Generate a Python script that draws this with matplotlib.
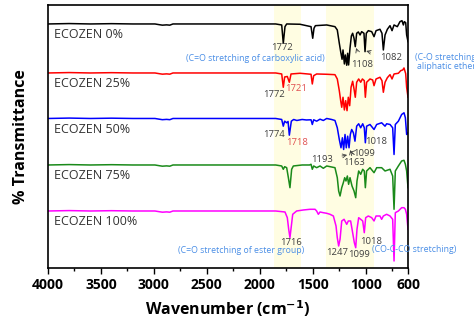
import matplotlib.pyplot as plt
from matplotlib.ticker import MultipleLocator

plt.rcParams['font.family'] = ['Open Sans', 'DejaVu Sans']

# FT-IR spectra (wavenumber, %T relative to baseline 100)
flat_w = [4000, 3800, 3600, 3400, 3200, 3050, 2990, 2950, 2920, 2880, 2850, 2820, 2600, 2300, 2050, 1850]
flat_t = [100, 100.4, 100, 100.3, 100, 100, 100, 99.3, 98.8, 99.1, 98.8, 100, 100, 100, 100, 100]

w_0 = flat_w + [1793, 1778, 1762, 1746, 1620, 1516, 1500, 1488, 1475, 1368, 1290, 1268, 1249, 1236, 1223,
                1214, 1201, 1192, 1179, 1170, 1161, 1148, 1135, 1123, 1110, 1098, 1085, 1069, 1053, 1038,
                1016, 1006, 994, 975, 943, 921, 902, 865, 846, 833, 817, 795, 770, 751, 732, 701, 676,
                657, 644, 635, 622, 613, 600]
t_0 = flat_t + [99, 80.7, 97.3, 100, 99.7, 97.3, 85.7, 95.7, 98.3, 99, 97.3, 94, 80.7, 72.3, 64.7,
                74, 60, 69, 58.7, 70.7, 59, 75.7, 88, 90.7, 85.7, 77.3, 90.7, 92, 89, 92.3,
                90.7, 72.3, 90.7, 93.3, 92.3, 87.3, 93.3, 94.7, 90.7, 74, 89, 94.7, 98.3, 93.3, 99, 97.3, 102.3,
                103.3, 99, 102.3, 101.3, 89, 82.3]

w_25 = flat_w + [1793, 1778, 1765, 1740, 1721, 1705, 1620, 1516, 1504, 1491, 1463, 1368, 1290, 1268, 1249,
                 1236, 1226, 1214, 1201, 1189, 1176, 1164, 1151, 1138, 1123, 1110, 1098, 1085, 1066, 1047,
                 1031, 1013, 1003, 991, 959, 934, 921, 902, 865, 846, 833, 817, 795, 770, 751, 732, 691,
                 669, 650, 638, 622, 613, 600]
t_25 = flat_t + [99, 85.7, 96, 96.5, 90.7, 99, 99.7, 98.7, 89, 97.3, 99, 98.7, 98.3, 94, 82.3,
                 72.3, 65.7, 75.7, 63, 72.3, 62.3, 75.7, 67.3, 85.7, 91.7, 84, 75.7, 90.7, 94, 90.7,
                 94, 92.3, 75.7, 90.7, 94, 93, 87.3, 94, 95.7, 92.3, 80.7, 90.7, 95.3, 98.3, 94, 99, 99.7,
                 102.3, 103, 105, 99.3, 85.7, 75.7]

w_50 = flat_w + [1793, 1778, 1765, 1746, 1733, 1721, 1702, 1680, 1650, 1600, 1560, 1516, 1504, 1491, 1463,
                 1431, 1400, 1368, 1322, 1290, 1268, 1249, 1233, 1220, 1208, 1195, 1183, 1170, 1157, 1145,
                 1132, 1116, 1101, 1085, 1066, 1047, 1028, 1013, 1003, 991, 959, 921, 896, 849, 817, 802,
                 770, 745, 732, 720, 691, 660, 638, 625, 613, 600]
t_50 = flat_t + [99, 92.3, 97.3, 95.7, 97, 83.3, 97.3, 99, 98, 99, 98.5, 98.7, 94, 98.7, 97.3,
                 99.3, 98, 100, 99, 98, 90.7, 79, 70.7, 80.7, 69, 84, 70.7, 82.3, 70.7, 84,
                 89, 85.7, 77.3, 92.3, 94.7, 90.7, 94.7, 90.7, 75.7, 92.3, 94, 89, 94, 95.7, 92.3, 94.7,
                 94, 90.7, 64, 94, 97.3, 104, 105.7, 100.7, 84, 85.7]

w_75 = flat_w + [1793, 1778, 1765, 1746, 1730, 1715, 1699, 1683, 1600, 1530, 1516, 1504, 1491, 1463, 1431,
                 1400, 1368, 1322, 1290, 1268, 1255, 1242, 1226, 1211, 1198, 1186, 1173, 1161, 1148, 1129,
                 1110, 1094, 1082, 1066, 1047, 1028, 1013, 1003, 991, 959, 921, 896, 849, 817, 770, 745,
                 732, 720, 691, 660, 638, 625, 613, 600]
t_75 = flat_t + [99, 95.7, 98.3, 97.3, 87.3, 77.3, 95.7, 99, 100, 100, 100.7, 95.7, 99, 97.3, 99,
                 96.7, 99, 98, 97.3, 87.3, 74, 69, 77.3, 82.3, 87.3, 84, 89, 80.7, 87.3, 79,
                 74, 67.3, 84, 94, 90.7, 95.7, 94, 77.3, 94, 97.3, 92.3, 97.3, 97.3, 94, 95.7, 89,
                 55.7, 94, 99, 104, 104.7, 100.7, 94, 77.3]

w_100 = flat_w + [1762, 1740, 1727, 1715, 1702, 1689, 1652, 1589, 1526, 1478, 1463, 1447, 1431, 1400, 1368,
                  1337, 1305, 1280, 1268, 1255, 1242, 1226, 1204, 1179, 1164, 1142, 1123, 1107, 1094, 1082,
                  1066, 1047, 1028, 1013, 1000, 975, 943, 921, 902, 865, 849, 833, 802, 770, 745, 732,
                  720, 691, 660, 638, 625, 613, 600]
t_100 = flat_t + [99, 93.3, 81.7, 73.3, 85, 96.7, 100, 101, 101.7, 101.7, 100, 96.7, 99, 98.3, 97.7,
                  96.7, 95, 85, 73.3, 65, 71.7, 90, 91.7, 86.7, 90, 90, 78.3, 68.3, 63.3, 81.7,
                  93.3, 91.7, 90, 78.3, 93.3, 95, 93.3, 90, 95, 95, 91.7, 95, 96.7, 95, 91.7, 50,
                  98.3, 100, 103.3, 103.3, 101.7, 96.7, 81.7]

samples = ['ECOZEN 0%', 'ECOZEN 25%', 'ECOZEN 50%', 'ECOZEN 75%', 'ECOZEN 100%']
waves = [w_0, w_25, w_50, w_75, w_100]
trans = [t_0, t_25, t_50, t_75, t_100]
colors = ['black', '#ff0000', '#0000ff', '#1a8a1a', '#ff00ff']
offsets = [144, 95, 49.5, 3, -43]

fig = plt.figure(figsize=(4.74, 3.2), dpi=100)
ax = fig.add_axes([0.1013, 0.1625, 0.7595, 0.822])

# highlighted regions
ax.axvspan(1865, 1610, color='#fffde2', lw=0, zorder=0)
ax.axvspan(1375, 920, color='#fffde2', lw=0, zorder=0)

for w, t, c, off, name in zip(waves, trans, colors, offsets, samples):
    ax.plot(w, [v + off for v in t], color=c, lw=1.1)
    ax.text(3943, off + 100 - 11, name, fontsize=9, color='#333333', va='center', ha='left')

ax.set_xlim(4000, 600)
ax.set_ylim(0, 263)
ax.set_yticks([])
ax.set_xticks([4000, 3500, 3000, 2500, 2000, 1500, 1000, 600])
ax.xaxis.set_minor_locator(MultipleLocator(250))
ax.tick_params(axis='x', which='major', length=4, width=1, labelsize=10, pad=3)
ax.tick_params(axis='x', which='minor', length=2.5, width=1)
for lab in ax.get_xticklabels():
    lab.set_fontweight('bold')
for s in ax.spines.values():
    s.set_linewidth(1.2)

ax.set_xlabel('Wavenumber (cm$^{\\mathbf{-1}}$)', fontsize=11.5, fontweight='bold', labelpad=5)
ax.set_ylabel('% Transmittance', fontsize=11.5, fontweight='bold', labelpad=14)

blue = '#4a8ee6'
grey = '#404040'
fs = 6.3

# group assignments
ax.text(2045, 209.5, '(C=O stretching of carboxylic acid)', fontsize=fs, color=blue, ha='center', va='center')
ax.text(2177, 17.3, '(C=O stretching of ester group)', fontsize=fs, color=blue, ha='center', va='center')
ax.text(543, 18, '(CO-C-CO stretching)', fontsize=fs, color=blue, ha='center', va='center')
ax.text(225, 205.5, '(C-O stretching_\naliphatic ether)', fontsize=fs, color=blue, ha='center',
        va='center', linespacing=1.0)

# peak labels
peaks = [(1790, 220, '1772', grey), (1870, 173, '1772', grey), (1653, 179, '1721', '#e05050'),
         (1866, 133, '1774', grey), (1644, 125, '1718', '#e05050'), (902, 126, '1018', grey),
         (1705, 25, '1716', grey), (1266, 15, '1247', grey), (1067, 13.5, '1099', grey),
         (945, 26.3, '1018', grey)]
for x, y, s, c in peaks:
    ax.text(x, y, s, fontsize=fs + 0.5, color=c, ha='center', va='center')

arrows = [('1108', (1035, 203), (1090, 220)), ('1082', (761, 210), (995, 217)),
          ('1193', (1417, 108), (1175, 113)), ('1099', (1016, 114), (1148, 116)),
          ('1163', (1115, 105), (1145, 118))]
for s, xy_text, xy in arrows:
    ax.annotate(s, xy=xy, xytext=xy_text, fontsize=fs + 0.5, color=grey, ha='center', va='center',
                arrowprops=dict(arrowstyle='->', color=grey, lw=0.6, shrinkA=5, shrinkB=0))

fig.savefig('out.png', dpi=100)
